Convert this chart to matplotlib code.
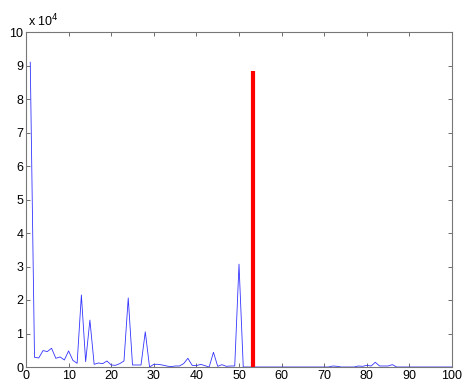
import matplotlib
matplotlib.use("Agg")
import matplotlib.pyplot as plt
import numpy as np

plt.rcParams['font.family'] = ['Liberation Sans', 'DejaVu Sans']

# spectrum data (values in units of 1e4)
x_vals = [1, 1.7] + list(range(2, 101))
y_head = [9.1, 2.9,
          0.29, 0.27, 0.49, 0.46, 0.56, 0.26, 0.30, 0.21, 0.48,   # 2-10
          0.20, 0.11, 2.15, 0.16, 1.40, 0.08, 0.12, 0.10, 0.18,   # 11-19
          0.06, 0.05, 0.10, 0.18, 2.06, 0.06, 0.06, 0.06, 1.05,   # 20-28
          0.00, 0.08, 0.08, 0.06, 0.03, 0.01, 0.03, 0.03, 0.10,   # 29-37
          0.26, 0.05, 0.04, 0.08, 0.04, 0.00, 0.44, 0.02, 0.07,   # 38-46
          0.02, 0.03, 0.03, 3.07, 0.00]                           # 47-51
y_tail = {72: 0.03, 73: 0.02, 78: 0.03, 79: 0.02, 80: 0.05, 81: 0.03,
          82: 0.14, 83: 0.03, 84: 0.03, 85: 0.03, 86: 0.07}
y_vals = y_head + [y_tail.get(k, 0.0) for k in range(52, 101)]

marker_x = 53.3
marker_top = 8.85

x_ticks = list(range(0, 101, 10))
y_ticks = list(range(0, 11))

fig = plt.figure(figsize=(4.62, 3.82), dpi=100)
ax = fig.add_axes([26/462, 15/382, 426/462, 335/382])

ax.plot(x_vals, y_vals, color='#3333ff', linewidth=0.6)
ax.plot([marker_x, marker_x], [0, marker_top], color='#ff0000', linewidth=3.0,
        solid_capstyle='butt')

ax.set_xlim(0, 100)
ax.set_ylim(0, 10)
ax.set_xticks(x_ticks)
ax.set_yticks(y_ticks)
ax.tick_params(direction='in', top=True, right=True, length=3, width=0.6,
               colors='#555555', labelcolor='black', labelsize=9, pad=2)
for s in ax.spines.values():
    s.set_color('#777777')
    s.set_linewidth(0.8)

ax.text(0.005, 1.008, r'x 10$^4$', transform=ax.transAxes, fontsize=9,
        ha='left', va='bottom')

fig.savefig('out.png', dpi=100)
